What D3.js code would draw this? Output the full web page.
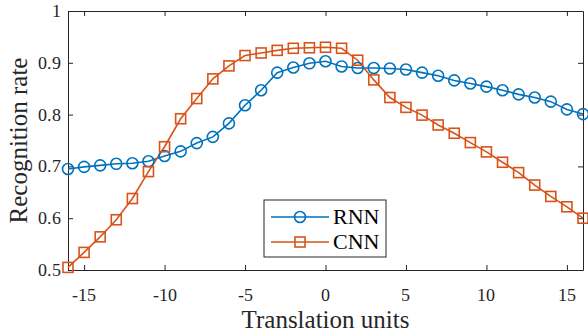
<!DOCTYPE html>
<html lang="en">
<head>
<meta charset="utf-8">
<script src="https://cdn.jsdelivr.net/npm/d3@7"></script>
<style>
  @font-face { font-family: 'ChartSerif'; src: local('Liberation Serif'), local('LiberationSerif'), local('LiberationSerif-Regular'); }
  body { margin: 0; background: #fff; }
</style>
</head>
<body>
<div id="chart"></div>
<script>
// translation units -16 .. 16
const units = [-16, -15, -14, -13, -12, -11, -10, -9, -8, -7, -6, -5, -4, -3, -2, -1, 0,
  1, 2, 3, 4, 5, 6, 7, 8, 9, 10, 11, 12, 13, 14, 15, 16];
const rnnRate = [0.695, 0.699, 0.702, 0.705, 0.706, 0.710, 0.720, 0.729, 0.745, 0.757, 0.783,
  0.818, 0.847, 0.881, 0.891, 0.899, 0.903, 0.893, 0.890, 0.890, 0.889, 0.887, 0.881,
  0.875, 0.866, 0.860, 0.854, 0.847, 0.839, 0.833, 0.825, 0.810, 0.801];
const cnnRate = [0.505, 0.534, 0.564, 0.597, 0.638, 0.690, 0.738, 0.792, 0.831, 0.869, 0.894,
  0.914, 0.919, 0.924, 0.928, 0.929, 0.930, 0.928, 0.905, 0.867, 0.833, 0.814, 0.799,
  0.780, 0.764, 0.746, 0.728, 0.708, 0.688, 0.664, 0.642, 0.622, 0.600];
const xTicks = [-15, -10, -5, 0, 5, 10, 15];
const yTicks = [0.5, 0.6, 0.7, 0.8, 0.9, 1];
const xTickLabels = ['-15', '-10', '-5', '0', '5', '10', '15'];
const yTickLabels = ['0.5', '0.6', '0.7', '0.8', '0.9', '1'];
const seriesNames = ['RNN', 'CNN'];

const width = 588, height = 335;
const margin = { top: 11, right: 5, bottom: 65, left: 68 };
const w = width - margin.left - margin.right;
const h = height - margin.top - margin.bottom;
const axisColor = '#262626';
const colors = ['#0072BD', '#D95319'];
const serif = "'Liberation Serif', serif";
const tickSerif = "'ChartSerif', 'Liberation Serif', 'Times New Roman', serif";

const svg = d3.select('#chart').append('svg')
  .attr('width', width)
  .attr('height', height)
  .attr('lang', 'en');
const g = svg.append('g')
  .attr('transform', 'translate(' + margin.left + ',' + margin.top + ')');

const x = d3.scaleLinear().domain([-16, 16]).range([0, w]);
const y = d3.scaleLinear().domain([0.5, 1]).range([h, 0]);

// ticks on all four sides, pointing inward (labels drawn separately)
g.append('g')
  .attr('transform', 'translate(0,' + h + ')')
  .call(d3.axisBottom(x).tickValues(xTicks).tickSizeInner(-5).tickSizeOuter(0).tickFormat(''));
g.append('g')
  .call(d3.axisLeft(y).tickValues(yTicks).tickSizeInner(-5).tickSizeOuter(0).tickFormat(''));
g.append('g')
  .call(d3.axisTop(x).tickValues(xTicks).tickSizeInner(-5).tickSizeOuter(0).tickFormat(''));
g.append('g')
  .attr('transform', 'translate(' + w + ',0)')
  .call(d3.axisRight(y).tickValues(yTicks).tickSizeInner(-5).tickSizeOuter(0).tickFormat(''));

g.selectAll('.domain').attr('stroke', axisColor).attr('stroke-width', 1);
g.selectAll('.tick line').attr('stroke', axisColor);

// tick labels
g.append('g').selectAll('text')
  .data(xTicks)
  .enter()
  .append('text')
  .attr('x', d => x(d))
  .attr('y', h + 31)
  .attr('text-anchor', 'middle')
  .attr('font-size', 18)
  .attr('fill', axisColor)
  .style('font-family', tickSerif)
  .text((d, i) => xTickLabels[i]);
g.append('g').selectAll('text')
  .data(yTicks)
  .enter()
  .append('text')
  .attr('x', -7)
  .attr('y', d => y(d) + 6)
  .attr('text-anchor', 'end')
  .attr('font-size', 18)
  .attr('fill', axisColor)
  .style('font-family', tickSerif)
  .text((d, i) => yTickLabels[i]);

// axis labels
svg.append('text')
  .attr('x', margin.left + w / 2)
  .attr('y', 328)
  .attr('text-anchor', 'middle')
  .attr('font-size', 25)
  .attr('fill', axisColor)
  .style('font-family', serif)
  .text('Translation units');
svg.append('text')
  .attr('transform', 'translate(27,' + (margin.top + h / 2) + ') rotate(-90)')
  .attr('text-anchor', 'middle')
  .attr('font-size', 25)
  .attr('fill', axisColor)
  .style('font-family', serif)
  .text('Recognition rate');

const line = d3.line()
  .x((d, i) => x(units[i]))
  .y(d => y(d));

const series = [rnnRate, cnnRate];
series.forEach((vals, s) => {
  g.append('path')
    .datum(vals)
    .attr('fill', 'none')
    .attr('stroke', colors[s])
    .attr('stroke-width', 1.6)
    .attr('d', line);
});

// RNN circles
g.append('g').selectAll('circle')
  .data(rnnRate)
  .enter()
  .append('circle')
  .attr('cx', (d, i) => x(units[i]))
  .attr('cy', d => y(d))
  .attr('r', 5.5)
  .attr('fill', 'none')
  .attr('stroke', colors[0])
  .attr('stroke-width', 1.6);

// CNN squares
g.append('g').selectAll('rect')
  .data(cnnRate)
  .enter()
  .append('rect')
  .attr('x', (d, i) => x(units[i]) - 5)
  .attr('y', d => y(d) - 5)
  .attr('width', 10)
  .attr('height', 10)
  .attr('fill', 'none')
  .attr('stroke', colors[1])
  .attr('stroke-width', 1.6);

// legend
const lg = svg.append('g').attr('transform', 'translate(264,200)');
lg.append('rect')
  .attr('width', 122)
  .attr('height', 57)
  .attr('fill', '#fff')
  .attr('stroke', axisColor)
  .attr('stroke-width', 1);
seriesNames.forEach((name, s) => {
  const cy = 17 + s * 25;
  lg.append('line')
    .attr('x1', 7).attr('x2', 65)
    .attr('y1', cy).attr('y2', cy)
    .attr('stroke', colors[s])
    .attr('stroke-width', 1.6);
  if (s === 0) {
    lg.append('circle').attr('cx', 36).attr('cy', cy).attr('r', 5.5)
      .attr('fill', 'none').attr('stroke', colors[s]).attr('stroke-width', 1.6);
  } else {
    lg.append('rect').attr('x', 31).attr('y', cy - 5).attr('width', 10).attr('height', 10)
      .attr('fill', 'none').attr('stroke', colors[s]).attr('stroke-width', 1.6);
  }
  lg.append('text')
    .attr('x', 69)
    .attr('y', cy + 7)
    .attr('font-size', 22)
    .attr('fill', '#000')
    .style('font-family', serif)
    .text(name);
});
</script>
</body>
</html>
